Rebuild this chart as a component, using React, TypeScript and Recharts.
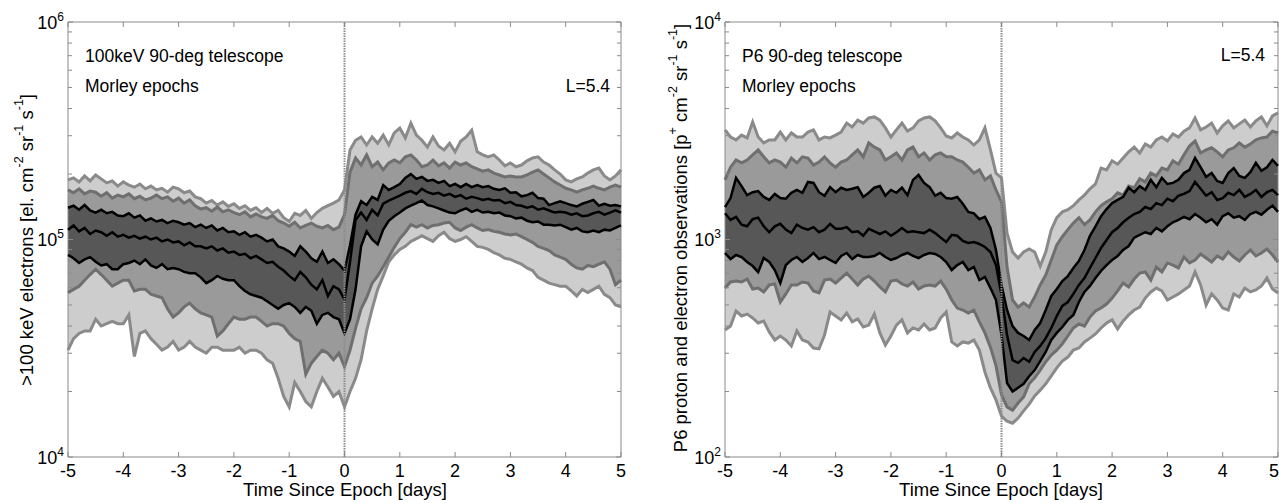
import { ComposedChart, Area, Line, XAxis, YAxis, ReferenceLine, ReferenceArea } from "recharts";

const FONT = '"Liberation Sans", Arial, Helvetica, sans-serif';
const FRAME = "#8a8a8a";
const PLOT_W = 553;
const PLOT_H = 435;

const DAYS = [
  -5, -4.9, -4.8, -4.7, -4.6, -4.5, -4.4, -4.3, -4.2, -4.1,
  -4, -3.9, -3.8, -3.7, -3.6, -3.5, -3.4, -3.3, -3.2, -3.1,
  -3, -2.9, -2.8, -2.7, -2.6, -2.5, -2.4, -2.3, -2.2, -2.1,
  -2, -1.9, -1.8, -1.7, -1.6, -1.5, -1.4, -1.3, -1.2, -1.1,
  -1, -0.9, -0.8, -0.7, -0.6, -0.5, -0.4, -0.3, -0.2, -0.1,
  0, 0.1, 0.2, 0.3, 0.4, 0.5, 0.6, 0.7, 0.8, 0.9,
  1, 1.1, 1.2, 1.3, 1.4, 1.5, 1.6, 1.7, 1.8, 1.9,
  2, 2.1, 2.2, 2.3, 2.4, 2.5, 2.6, 2.7, 2.8, 2.9,
  3, 3.1, 3.2, 3.3, 3.4, 3.5, 3.6, 3.7, 3.8, 3.9,
  4, 4.1, 4.2, 4.3, 4.4, 4.5, 4.6, 4.7, 4.8, 4.9,
  5,
];
const X_TICKS = [-5, -4, -3, -2, -1, 0, 1, 2, 3, 4, 5];
const E_Y_TICKS = [
  10000, 20000, 30000, 40000, 50000, 60000, 70000, 80000, 90000,
  100000, 200000, 300000, 400000, 500000, 600000, 700000, 800000, 900000, 1000000,
];
const P_Y_TICKS = [100, 200, 300, 400, 500, 600, 700, 800, 900, 1000, 2000, 3000, 4000, 5000, 6000, 7000, 8000, 9000, 10000];

// >100 keV electrons, in units of 10^3 el. cm-2 sr-1 s-1
const E_OUTER_HI = [
  188, 192, 184, 196, 186, 198, 190, 182, 186, 176,
  184, 178, 174, 180, 171, 176, 169, 172, 165, 174,
  171, 164, 167, 157, 154, 147, 151, 144, 149, 142,
  146, 139, 143, 136, 140, 133, 139, 132, 136, 126,
  121, 132, 129, 136, 125, 133, 139, 143, 147, 152,
  169, 258, 286, 296, 272, 296, 277, 302, 272, 309,
  325, 293, 343, 302, 286, 266, 296, 269, 258, 277,
  253, 283, 296, 318, 253, 245, 240, 245, 232, 218,
  225, 216, 220, 230, 237, 240, 227, 220, 209, 200,
  188, 184, 190, 194, 202, 209, 213, 196, 188, 196,
  209,
];
const E_MID_HI = [
  169, 164, 171, 162, 167, 165, 158, 164, 155, 160,
  157, 162, 154, 158, 152, 155, 160, 154, 157, 150,
  155, 147, 152, 143, 138, 140, 135, 141, 134, 137,
  133, 130, 134, 127, 131, 127, 125, 129, 122, 119,
  115, 120, 113, 116, 119, 115, 113, 116, 111, 114,
  130, 204, 237, 220, 245, 216, 227, 209, 225, 232,
  225, 240, 245, 232, 216, 220, 232, 218, 225, 213,
  227, 220, 225, 216, 211, 206, 209, 202, 198, 194,
  196, 194, 194, 198, 204, 209, 200, 192, 184, 178,
  172, 169, 165, 169, 172, 176, 172, 169, 174, 178,
  174,
];
const E_INNER_HI = [
  140, 143, 137, 144, 136, 133, 137, 132, 134, 129,
  128, 132, 126, 129, 122, 125, 121, 123, 119, 122,
  120, 117, 119, 114, 117, 113, 116, 110, 113, 108,
  109, 105, 108, 103, 105, 102, 98, 100, 93, 91,
  88, 84, 93, 88, 82, 79, 88, 78, 81, 77,
  72, 94, 130, 150, 144, 157, 152, 178, 169, 174,
  180, 192, 200, 190, 194, 186, 188, 182, 186, 176,
  180, 174, 180, 174, 178, 174, 176, 171, 169, 172,
  164, 165, 158, 160, 164, 155, 154, 144, 147, 150,
  147, 144, 142, 146, 149, 152, 143, 146, 143, 144,
  142,
];
const E_MEDIAN = [
  111, 116, 109, 113, 106, 110, 108, 104, 108, 103,
  105, 102, 104, 101, 103, 100, 102, 98, 100, 97,
  98, 94, 97, 93, 93, 91, 93, 89, 91, 87,
  88, 85, 86, 82, 84, 81, 78, 79, 75, 72,
  68, 65, 71, 67, 62, 59, 65, 55, 61, 59,
  53, 79, 123, 133, 123, 137, 129, 146, 151, 155,
  159, 164, 167, 162, 171, 165, 162, 164, 159, 162,
  157, 160, 154, 157, 155, 152, 154, 151, 152, 147,
  149, 144, 143, 140, 142, 137, 139, 136, 133, 134,
  133, 130, 132, 128, 129, 132, 134, 130, 133, 136,
  133,
];
const E_INNER_LO = [
  85, 82, 78, 81, 83, 79, 76, 77, 73, 73,
  77, 78, 80, 77, 81, 76, 74, 77, 73, 74,
  73, 71, 70, 70, 67, 63, 65, 68, 66, 65,
  65, 61, 58, 56, 55, 54, 52, 50, 48, 50,
  51, 49, 46, 49, 47, 41, 45, 46, 44, 43,
  37, 43, 59, 93, 109, 100, 95, 111, 122, 128,
  133, 139, 143, 147, 151, 144, 142, 139, 136, 133,
  132, 136, 139, 134, 137, 133, 134, 132, 133, 129,
  128, 125, 126, 122, 120, 121, 117, 117, 116, 117,
  114, 111, 113, 109, 108, 110, 108, 111, 110, 113,
  116,
];
const E_MID_LO = [
  57, 59, 61, 65, 69, 73, 69, 65, 61, 63,
  65, 65, 58, 59, 59, 56, 55, 54, 48, 44,
  46, 49, 51, 48, 46, 45, 44, 36, 38, 41,
  44, 43, 43, 44, 44, 42, 40, 41, 41, 40,
  37, 35, 34, 24, 27, 29, 31, 30, 28, 30,
  26, 31, 39, 48, 54, 63, 68, 75, 83, 92,
  101, 108, 117, 114, 117, 113, 116, 117, 119, 120,
  113, 110, 114, 117, 113, 110, 111, 109, 108, 106,
  105, 106, 103, 100, 97, 93, 91, 89, 85, 83,
  81, 77, 74, 73, 76, 75, 77, 79, 73, 62,
  65,
];
const E_OUTER_LO = [
  31, 35, 37, 38, 38, 43, 40, 41, 42, 41,
  41, 45, 29, 37, 38, 35, 33, 31, 32, 34,
  31, 32, 34, 32, 31, 30, 32, 32, 31, 31,
  31, 32, 30, 31, 31, 30, 28, 27, 23, 19,
  17, 22, 20, 18, 17, 20, 23, 21, 19, 20,
  17, 20, 23, 28, 38, 48, 59, 68, 79, 85,
  90, 93, 98, 101, 104, 101, 98, 104, 108, 101,
  98, 100, 103, 98, 93, 92, 90, 87, 85, 82,
  81, 79, 77, 74, 72, 67, 65, 63, 62, 61,
  61, 58, 55, 59, 57, 59, 61, 56, 54, 50,
  49,
];

// P6 proton and electron flux, p+ cm-2 sr-1 s-1
const P_OUTER_HI = [
  3190, 2960, 2870, 3020, 2930, 3470, 2960, 2780, 2870, 2870,
  3120, 2870, 3090, 2960, 2960, 3120, 3190, 2870, 2960, 2930,
  3020, 3120, 3430, 3290, 3540, 3430, 3620, 3660, 3540, 3260,
  2960, 3190, 3430, 3150, 3260, 3510, 3620, 3660, 3510, 3260,
  2990, 2930, 3090, 2960, 2870, 2720, 2870, 3260, 2580, 2020,
  1920, 1070, 876, 822, 876, 904, 876, 755, 876, 1110,
  1260, 1340, 1370, 1430, 1520, 1600, 1710, 1800, 2130, 2090,
  2300, 2220, 2370, 2530, 2660, 2500, 2750, 2660, 2870, 2960,
  2840, 3060, 2960, 3150, 3260, 3620, 3190, 3290, 3430, 3090,
  3330, 3510, 3260, 3400, 3540, 3290, 3510, 3660, 3330, 3700,
  3820,
];
const P_MID_HI = [
  1880, 2150, 2320, 2250, 2320, 2450, 2580, 2400, 2250, 2320,
  2270, 2150, 2370, 2250, 2400, 2370, 2200, 2270, 2400, 2250,
  2150, 2270, 2320, 2450, 2580, 2400, 2780, 2660, 2580, 2320,
  2400, 2500, 2320, 2580, 2660, 2400, 2500, 2320, 2450, 2500,
  2400, 2400, 2320, 2270, 2150, 2020, 2090, 1880, 1960, 1690,
  1490, 747, 527, 489, 511, 489, 544, 618, 686, 805,
  943, 1030, 1110, 1190, 1260, 1170, 1230, 1340, 1430, 1490,
  1540, 1640, 1600, 1760, 1730, 1900, 1840, 2020, 1960, 2130,
  2090, 2300, 2220, 2450, 2690, 2840, 2500, 2580, 2640, 2530,
  2400, 2580, 2640, 2780, 2660, 2750, 2870, 2930, 2960, 3150,
  3090,
];
const P_INNER_HI = [
  1410, 1550, 1920, 1760, 1600, 1650, 1670, 1570, 1520, 1620,
  1550, 1540, 1640, 1690, 1640, 1840, 1820, 1650, 1590, 1740,
  1650, 1730, 1690, 1710, 1740, 1570, 1640, 1730, 1760, 1590,
  1690, 1640, 1730, 1600, 1880, 1980, 1820, 1740, 1590, 1640,
  1550, 1540, 1570, 1460, 1340, 1320, 1240, 1270, 1130, 895,
  618, 474, 400, 372, 360, 345, 384, 413, 474, 550,
  592, 644, 679, 740, 797, 895, 1040, 1150, 1280, 1380,
  1470, 1520, 1570, 1730, 1650, 1760, 1690, 1880, 1740, 1920,
  1800, 1820, 1880, 2020, 2090, 2370, 2150, 1940, 2020, 1860,
  1820, 2020, 2130, 1960, 1920, 2040, 2250, 2070, 2150, 2320,
  2180,
];
const P_MEDIAN = [
  1320, 1230, 1270, 1170, 1150, 1240, 1260, 1150, 1080, 1150,
  1180, 1110, 1070, 1170, 1130, 1110, 1140, 1080, 1110, 1180,
  1120, 1120, 1140, 1080, 1090, 1040, 1120, 1090, 1060, 1090,
  1040, 1080, 1130, 1080, 1090, 1080, 1070, 1110, 1070, 1020,
  974, 1050, 1040, 985, 964, 974, 954, 924, 876, 763,
  556, 364, 279, 271, 285, 274, 304, 324, 352, 392,
  445, 495, 516, 562, 618, 665, 740, 822, 914, 995,
  1080, 1130, 1200, 1260, 1310, 1340, 1410, 1380, 1470, 1440,
  1540, 1500, 1590, 1620, 1670, 1840, 1710, 1590, 1650, 1520,
  1550, 1640, 1600, 1690, 1570, 1620, 1690, 1570, 1650, 1690,
  1600,
];
const P_INNER_LO = [
  867, 813, 849, 831, 788, 755, 708, 822, 788, 724,
  631, 763, 805, 831, 788, 822, 867, 813, 831, 805,
  780, 840, 867, 813, 849, 831, 831, 840, 867, 831,
  805, 822, 849, 867, 840, 822, 849, 867, 858, 831,
  788, 724, 763, 788, 724, 747, 651, 672, 598, 527,
  364, 219, 200, 208, 217, 235, 251, 276, 304, 345,
  372, 396, 427, 450, 516, 574, 612, 665, 717, 763,
  805, 840, 895, 933, 1020, 1050, 1080, 1060, 1130, 1090,
  1150, 1200, 1230, 1270, 1240, 1310, 1260, 1200, 1240, 1170,
  1280, 1320, 1260, 1280, 1230, 1310, 1340, 1300, 1370, 1430,
  1340,
];
const P_MID_LO = [
  598, 638, 644, 638, 658, 592, 598, 574, 618, 625,
  516, 562, 618, 618, 638, 631, 580, 568, 651, 658,
  631, 665, 701, 658, 618, 658, 679, 644, 605, 574,
  644, 651, 625, 611, 638, 592, 611, 618, 611, 644,
  592, 527, 484, 474, 459, 474, 418, 372, 320, 263,
  193, 170, 164, 177, 189, 217, 231, 251, 274, 294,
  310, 331, 360, 392, 409, 400, 440, 469, 484, 505,
  538, 580, 631, 605, 658, 701, 709, 651, 747, 709,
  780, 763, 740, 831, 780, 805, 858, 822, 788, 840,
  813, 876, 831, 796, 849, 895, 840, 867, 904, 849,
  788,
];
const P_OUTER_LO = [
  384, 400, 469, 445, 454, 436, 413, 422, 376, 345,
  360, 345, 324, 380, 345, 338, 317, 314, 364, 464,
  445, 427, 459, 418, 431, 396, 404, 454, 372, 327,
  360, 404, 427, 372, 392, 384, 409, 384, 392, 436,
  464, 338, 324, 338, 334, 345, 310, 246, 208, 183,
  154, 146, 143, 151, 163, 175, 191, 203, 217, 236,
  257, 276, 288, 310, 317, 338, 352, 368, 392, 413,
  427, 388, 422, 450, 474, 489, 538, 574, 598, 580,
  527, 544, 562, 586, 611, 709, 618, 500, 562, 527,
  484, 474, 562, 544, 598, 574, 586, 611, 665, 592,
  568,
];

interface Bands {
  outerHi: number[]
  midHi: number[]
  innerHi: number[]
  median: number[]
  innerLo: number[]
  midLo: number[]
  outerLo: number[]
}

function toRows(b: Bands, unit: number) {
  return DAYS.map((t, i) => ({
    t,
    outer: [b.outerLo[i] * unit, b.outerHi[i] * unit],
    mid: [b.midLo[i] * unit, b.midHi[i] * unit],
    inner: [b.innerLo[i] * unit, b.innerHi[i] * unit],
    outerHi: b.outerHi[i] * unit,
    midHi: b.midHi[i] * unit,
    innerHi: b.innerHi[i] * unit,
    median: b.median[i] * unit,
    innerLo: b.innerLo[i] * unit,
    midLo: b.midLo[i] * unit,
    outerLo: b.outerLo[i] * unit,
  }))
}

const electronRows = toRows(
  { outerHi: E_OUTER_HI, midHi: E_MID_HI, innerHi: E_INNER_HI, median: E_MEDIAN, innerLo: E_INNER_LO, midLo: E_MID_LO, outerLo: E_OUTER_LO },
  1000
)
const protonRows = toRows(
  { outerHi: P_OUTER_HI, midHi: P_MID_HI, innerHi: P_INNER_HI, median: P_MEDIAN, innerLo: P_INNER_LO, midLo: P_MID_LO, outerLo: P_OUTER_LO },
  1
)

// inward ticks on bottom and top edges, label under the bottom one
const makeXTick = (chartWidth: number) => (props: any) => {
  const { x, y, payload } = props
  const atEdge = x + 6 > chartWidth
  return (
    <g>
      <line x1={x} x2={x} y1={y} y2={y - 5} stroke={FRAME} />
      <line x1={x} x2={x} y1={y - PLOT_H} y2={y - PLOT_H + 5} stroke={FRAME} />
      <text
        x={atEdge ? chartWidth : x}
        y={y + 20}
        textAnchor={atEdge ? "end" : "middle"}
        fontSize={18}
        fontFamily={FONT}
        fill="#000"
      >
        {String(payload.value)}
      </text>
    </g>
  )
}

// inward ticks on left and right edges, decade labels as 10^n
const YTick = (props: any) => {
  const { x, y, payload } = props
  const exp = Math.log10(payload.value)
  const major = Math.abs(exp - Math.round(exp)) < 1e-6
  const len = major ? 5 : 4
  return (
    <g>
      <line x1={x} x2={x + len} y1={y} y2={y} stroke={FRAME} />
      <line x1={x + PLOT_W} x2={x + PLOT_W - len} y1={y} y2={y} stroke={FRAME} />
      {major && (
        <text x={x - 4} y={y + 6.5} textAnchor="end" fontSize={18} fontFamily={FONT} fill="#000">
          10<tspan dy={-8} fontSize={12}>{Math.round(exp)}</tspan>
        </text>
      )}
    </g>
  )
}

interface PanelProps {
  rows: ReturnType<typeof toRows>
  domain: [number, number]
  yTicks: number[]
  width: number
  yAxisWidth: number
  marginRight: number
}

const Panel = ({ rows, domain, yTicks, width, yAxisWidth, marginRight }: PanelProps) => (
  <ComposedChart width={width} height={503} data={rows} margin={{ top: 22, right: marginRight, bottom: 0, left: 0 }}>
    <XAxis
      dataKey="t"
      type="number"
      domain={[-5, 5]}
      ticks={X_TICKS}
      interval={0}
      height={46}
      axisLine={false}
      tickLine={false}
      tickSize={0}
      tickMargin={0}
      tick={makeXTick(width)}
    />
    <YAxis
      type="number"
      scale="log"
      domain={domain}
      allowDataOverflow
      ticks={yTicks}
      interval={0}
      width={yAxisWidth}
      axisLine={false}
      tickLine={false}
      tickSize={0}
      tickMargin={0}
      tick={YTick}
    />
    <Area type="linear" dataKey="outer" stroke="none" fill="#cdcdcd" fillOpacity={1} dot={false} activeDot={false} isAnimationActive={false} />
    <Area type="linear" dataKey="mid" stroke="none" fill="#9a9a9a" fillOpacity={1} dot={false} activeDot={false} isAnimationActive={false} />
    <Area type="linear" dataKey="inner" stroke="none" fill="#575757" fillOpacity={1} dot={false} activeDot={false} isAnimationActive={false} />
    <Line type="linear" dataKey="outerHi" stroke="#8a8a8a" strokeWidth={3} dot={false} activeDot={false} isAnimationActive={false} />
    <Line type="linear" dataKey="outerLo" stroke="#8a8a8a" strokeWidth={3} dot={false} activeDot={false} isAnimationActive={false} />
    <Line type="linear" dataKey="midHi" stroke="#6f6f6f" strokeWidth={3} dot={false} activeDot={false} isAnimationActive={false} />
    <Line type="linear" dataKey="midLo" stroke="#6f6f6f" strokeWidth={3} dot={false} activeDot={false} isAnimationActive={false} />
    <Line type="linear" dataKey="innerHi" stroke="#000" strokeWidth={2.5} dot={false} activeDot={false} isAnimationActive={false} />
    <Line type="linear" dataKey="innerLo" stroke="#000" strokeWidth={2.5} dot={false} activeDot={false} isAnimationActive={false} />
    <Line type="linear" dataKey="median" stroke="#000" strokeWidth={2.5} dot={false} activeDot={false} isAnimationActive={false} />
    <ReferenceLine x={0} stroke="#8c8c8c" strokeWidth={2} strokeDasharray="1.5 1" />
    <ReferenceArea x1={-5} x2={5} y1={domain[0]} y2={domain[1]} fill="none" stroke={FRAME} strokeWidth={1} ifOverflow="visible" />
  </ComposedChart>
)

const T = { fontFamily: FONT, fill: "#000" }

export default function App() {
  return (
    <div style={{ position: "absolute", left: 0, top: 0, width: 1279, height: 503, background: "#fff", overflow: "hidden" }}>
      <div style={{ position: "absolute", left: 0, top: 0 }}>
        <Panel rows={electronRows} domain={[10000, 1000000]} yTicks={E_Y_TICKS} width={640} yAxisWidth={68} marginRight={19} />
      </div>
      <div style={{ position: "absolute", left: 640, top: 0 }}>
        <Panel rows={protonRows} domain={[100, 10000]} yTicks={P_Y_TICKS} width={639} yAxisWidth={85} marginRight={1} />
      </div>
      <svg width={1279} height={503} style={{ position: "absolute", left: 0, top: 0, pointerEvents: "none" }}>
        <text x={85} y={62} fontSize={17.5} {...T}>100keV 90-deg telescope</text>
        <text x={85} y={92} fontSize={17.5} {...T}>Morley epochs</text>
        <text x={610} y={92} fontSize={17.5} textAnchor="end" {...T}>L=5.4</text>
        <text x={345} y={496} fontSize={18.5} textAnchor="middle" {...T}>Time Since Epoch [days]</text>
        <text x={26} y={240} fontSize={18.5} textAnchor="middle" dominantBaseline="central" transform="rotate(-90 26 240)" {...T}>
          &gt;100 keV electrons [el. cm<tspan dy={-7} fontSize={12.5}>-2</tspan>
          <tspan dy={7}> sr</tspan><tspan dy={-7} fontSize={12.5}>-1</tspan>
          <tspan dy={7}> s</tspan><tspan dy={-7} fontSize={12.5}>-1</tspan>
          <tspan dy={7}>]</tspan>
        </text>

        <text x={742} y={62} fontSize={17.5} {...T}>P6 90-deg telescope</text>
        <text x={742} y={92} fontSize={17.5} {...T}>Morley epochs</text>
        <text x={1265} y={61} fontSize={17.5} textAnchor="end" {...T}>L=5.4</text>
        <text x={1001} y={496} fontSize={18.5} textAnchor="middle" {...T}>Time Since Epoch [days]</text>
        <text x={680} y={238} fontSize={18.5} textAnchor="middle" dominantBaseline="central" transform="rotate(-90 680 238)" {...T}>
          P6 proton and electron observations [p<tspan dy={-7} fontSize={12.5}>+</tspan>
          <tspan dy={7}> cm</tspan><tspan dy={-7} fontSize={12.5}>-2</tspan>
          <tspan dy={7}> sr</tspan><tspan dy={-7} fontSize={12.5}>-1</tspan>
          <tspan dy={7}> s</tspan><tspan dy={-7} fontSize={12.5}>-1</tspan>
          <tspan dy={7}>]</tspan>
        </text>
      </svg>
    </div>
  )
}
